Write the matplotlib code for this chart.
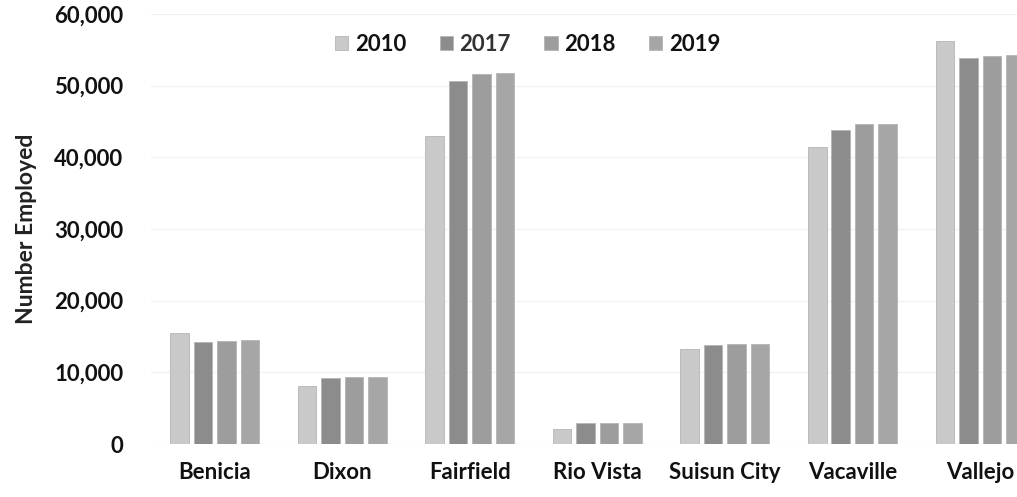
import matplotlib.pyplot as plt
import numpy as np
from matplotlib.ticker import FuncFormatter

cities = ["Benicia", "Dixon", "Fairfield", "Rio Vista", "Suisun City", "Vacaville", "Vallejo"]
years = ["2010", "2017", "2018", "2019"]
emp_2010 = [15500, 8100, 43000, 2100, 13200, 41400, 56200]
emp_2017 = [14300, 9200, 50600, 2900, 13800, 43800, 53800]
emp_2018 = [14400, 9300, 51600, 2900, 14000, 44600, 54200]
emp_2019 = [14500, 9300, 51700, 2900, 14000, 44700, 54300]

series = [emp_2010, emp_2017, emp_2018, emp_2019]
colors = ["#c9c9c9", "#8c8c8c", "#9d9d9d", "#a6a6a6"]

plt.rcParams['font.family'] = ['Lato', 'DejaVu Sans']
plt.rcParams['font.weight'] = 'bold'

fig = plt.figure(figsize=(10.17, 4.97), dpi=100)
ax = fig.add_axes([0.1485, 0.1066, 0.8515, 0.8652])

x = np.arange(len(cities))
step = 0.184
width = 0.145
for i, (vals, c) in enumerate(zip(series, colors)):
    ax.bar(x + (i - 1.5) * step, vals, width, color=c, label=years[i],
           edgecolor="#b5b5b5", linewidth=0.6, zorder=3)

ax.set_xlim(-0.5, 6.29)
ax.set_ylim(0, 60000)
ax.set_yticks(range(0, 60001, 10000))
ax.yaxis.set_major_formatter(FuncFormatter(lambda v, p: f"{int(v):,}"))
ax.set_xticks(x)
ax.set_xticklabels(cities)
ax.tick_params(axis='both', length=0, labelsize=16, colors="#111111")
ax.tick_params(axis='y', pad=20)
ax.tick_params(axis='x', pad=13)
for s in ax.spines.values():
    s.set_visible(False)
ax.grid(axis='y', color="#f2f2f2", linewidth=1, zorder=0)
ax.set_ylabel("Number Employed", fontsize=16.5, fontweight='bold', labelpad=12, color="#222222")

leg = ax.legend(loc='upper center', bbox_to_anchor=(0.435, 1.0), ncol=4, frameon=False,
                fontsize=16, handlelength=0.6, handleheight=0.6, handletextpad=0.3,
                columnspacing=1.5)
for t, c in zip(leg.get_texts(), ["#111111", "#333333", "#111111", "#111111"]):
    t.set_color(c)

plt.savefig("out.png", dpi=100)
